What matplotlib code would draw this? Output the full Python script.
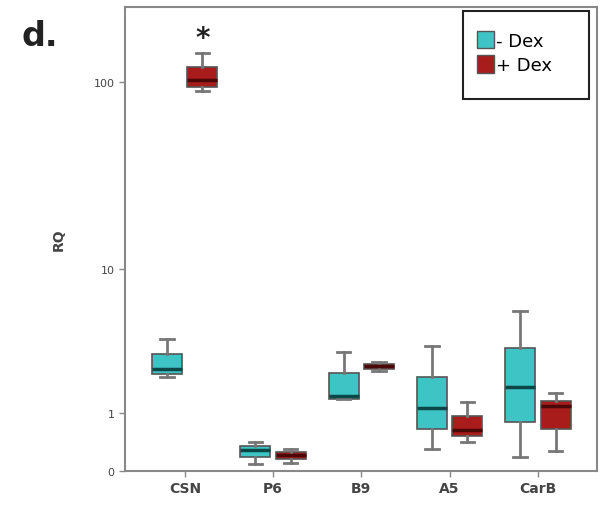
import matplotlib.pyplot as plt
from matplotlib.patches import Patch, Rectangle
import numpy as np

# data (RQ values)
genes = ["CSN", "P6", "B9", "A5", "CarB"]

# - Dex
minus_whislo = [2.05, 0.086, 1.35, 0.30, 0.18]
minus_q1 = [2.16, 0.18, 1.35, 0.65, 0.79]
minus_med = [2.35, 0.28, 1.44, 1.11, 1.71]
minus_q3 = [3.01, 0.35, 2.20, 2.05, 3.31]
minus_whishi = [3.79, 0.41, 3.11, 3.41, 5.68]

# + Dex
plus_whislo = [90, 0.099, 2.28, 0.41, 0.27]
plus_q1 = [94, 0.153, 2.35, 0.515, 0.647]
plus_med = [102, 0.209, 2.46, 0.626, 1.16]
plus_q3 = [120, 0.253, 2.56, 0.92, 1.30]
plus_whishi = [142, 0.297, 2.65, 1.27, 1.52]

yticks = [0, 1, 10, 100]


# axis is log10(RQ + 1), so 0 can sit at the bottom
def fwd(y):
    return np.log10(np.clip(y, 0, None) + 1)


def inv(y):
    return 10 ** y - 1


def make_stats(lo, q1, med, q3, hi):
    return [dict(whislo=a, q1=b, med=c, q3=d, whishi=e, fliers=[])
            for a, b, c, d, e in zip(lo, q1, med, q3, hi)]


teal = "#3ec4c4"
red = "#a81c1c"

fig = plt.figure(figsize=(6, 5.1), dpi=100)
ax = fig.add_axes([0.208, 0.0745, 0.787, 0.91])
ax.set_yscale("function", functions=(fwd, inv))

pos = np.arange(len(genes))
off = 0.2
w = 0.34

for stats, x, col, medcol in [
    (make_stats(minus_whislo, minus_q1, minus_med, minus_q3, minus_whishi), pos - off, teal, "#0b4747"),
    (make_stats(plus_whislo, plus_q1, plus_med, plus_q3, plus_whishi), pos + off, red, "#4a0808"),
]:
    ax.bxp(stats, positions=x, widths=w, patch_artist=True, showfliers=False,
           boxprops=dict(facecolor=col, edgecolor="#555555", linewidth=1.2),
           medianprops=dict(color=medcol, linewidth=2.5),
           whiskerprops=dict(color="#777777", linewidth=2),
           capprops=dict(color="#777777", linewidth=2),
           capwidths=w * 0.45)

ax.text(pos[0] + off, 170, "*", ha="center", va="center", fontsize=20,
        fontweight="bold", color="#222222")

ax.set_xlim(-0.68, 4.67)
ax.set_ylim(0, 245)
ax.set_yticks(yticks)
ax.set_yticklabels([str(t) for t in yticks], fontsize=8, color="#444444")
ax.yaxis.set_minor_locator(plt.NullLocator())
ax.set_xticks(pos)
ax.set_xticklabels(genes, fontsize=10, fontweight="bold", color="#444444")
ax.tick_params(axis="both", length=4, width=1, color="#888888")
ax.set_ylabel("RQ", fontsize=10, fontweight="bold", color="#444444", labelpad=20)

for sp in ax.spines.values():
    sp.set_color("#888888")
    sp.set_linewidth(1.5)

# legend frame is bigger than its entries in the original
ax.add_patch(Rectangle((0.716, 0.802), 0.266, 0.189, transform=ax.transAxes,
                       fill=False, edgecolor="#222222", linewidth=1.5, zorder=5))
handles = [Patch(facecolor=teal, edgecolor="#555555", label="- Dex"),
           Patch(facecolor=red, edgecolor="#555555", label="+ Dex")]
ax.legend(handles=handles, loc="upper left", bbox_to_anchor=(0.72, 0.975),
          fontsize=13, frameon=False, handlelength=0.9, handleheight=1.1,
          handletextpad=0.15, borderpad=0.2, labelspacing=0.3)

fig.text(0.035, 0.91, "d.", fontsize=24, fontweight="bold", color="#222222")

fig.savefig("out.png", dpi=100)
